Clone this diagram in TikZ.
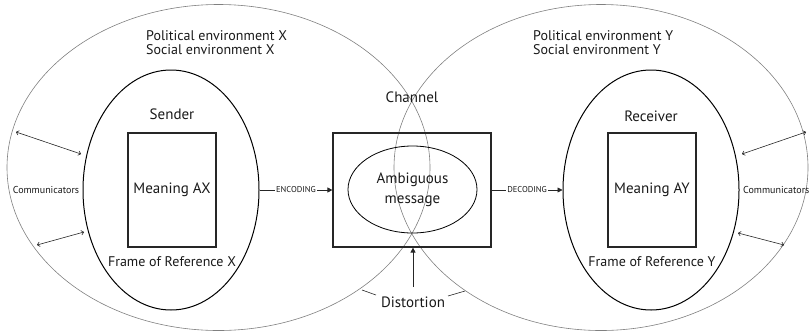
\documentclass[tikz,border=0pt]{standalone}
\usepackage{fontspec}
\setmainfont{PT Sans}
\usetikzlibrary{shapes.geometric,arrows.meta}
\tikzset{
  bigell/.style={ellipse, draw=black!50, line width=0.6pt, inner sep=0pt},
  midell/.style={ellipse, draw=black, line width=1pt, inner sep=0pt},
  meanbox/.style={rectangle, draw=black!85, line width=1.2pt, inner sep=0pt},
  envlbl/.style={font=\fontsize{14}{14}\selectfont, text=black!90, inner sep=0pt},
  lbl/.style={font=\fontsize{15}{17}\selectfont, text=black!90, inner sep=0pt},
  framelbl/.style={font=\fontsize{14}{17}\selectfont, text=black!90, inner sep=0pt},
  biglbl/.style={font=\fontsize{15}{20}\selectfont, text=black!90, inner sep=0pt},
  small/.style={font=\fontsize{10}{12}\selectfont, text=black!90, inner sep=0pt},
  coder/.style={font=\fontsize{8.5}{9}\selectfont, text=black!90, fill=white, inner sep=1.2pt},
  flow/.style={draw=black!85, line width=0.8pt, -{Triangle[length=5pt,width=5pt]}},
  comm/.style={draw=black!85, line width=0.6pt, {To[length=3pt,width=5pt]}-{To[length=3pt,width=5pt]}},
  leader/.style={draw=black!85, line width=0.6pt}
}
\begin{document}
\begin{tikzpicture}[x=1pt,y=-1pt]
\useasboundingbox (0,0) rectangle (811,333);
% environments
\node[bigell, minimum width=423pt, minimum height=326pt] (envX) at (218.5,167.5) {};
\node[bigell, minimum width=414pt, minimum height=326pt] (envY) at (601,167.5) {};
% sender / receiver
\node[midell, minimum width=176pt, minimum height=240pt] (sender) at (171,190) {};
\node[midell, minimum width=176pt, minimum height=240pt] (receiver) at (651,190) {};
% meaning boxes
\node[meanbox, minimum width=88pt, minimum height=114pt, biglbl] (meanX) at (172,190) {Meaning AX};
\node[meanbox, minimum width=88pt, minimum height=114pt, biglbl] (meanY) at (652,190) {Meaning AY};
% channel
\node[meanbox, minimum width=158pt, minimum height=114pt] (chan) at (412,190) {};
\node[ellipse, draw=black, line width=0.8pt, inner sep=0pt, minimum width=129pt, minimum height=87pt, biglbl, align=center] (amb) at (412.5,189.5) {Ambiguous\\message};
% labels
\node[envlbl, align=left, anchor=north west] (polX) at (146,30) {Political environment X\\Social environment X};
\node[envlbl, align=left, anchor=north west] (polY) at (533,30) {Political environment Y\\Social environment Y};
\node[lbl] (chanlbl) at (412,97) {Channel};
\node[lbl] (sendlbl) at (172,114) {Sender};
\node[lbl] (recvlbl) at (651,116) {Receiver};
\node[framelbl] (frameX) at (172,262) {Frame of Reference X};
\node[framelbl] (frameY) at (652,262) {Frame of Reference Y};
\node[small] (commX) at (46,190) {Communicators};
\node[small, anchor=west] (commY) at (743,190) {Communicators};
\node[lbl] (dist) at (413,302) {Distortion};
% encoding / decoding
\draw[flow] (sender.east) -- node[coder] (enc) {ENCODING} (chan.west);
\draw[flow] (chan.east) -- node[coder] (dec) {DECODING} (receiver.west);
% distortion
\coordinate (dstart) at (413,287);
\draw[flow] (dstart) -- (dstart |- chan.south);
\coordinate (dl1) at (376,295);
\coordinate (dl2) at (362,290);
\coordinate (dr1) at (448,296);
\coordinate (dr2) at (465,291);
\draw[leader] (dl1) -- (dl2);
\draw[leader] (dr1) -- (dr2);
% communicators arrows
\coordinate (cx1a) at (16,132);
\coordinate (cx1b) at (81,154);
\coordinate (cx2a) at (37,245);
\coordinate (cx2b) at (84,232);
\coordinate (cy1a) at (742,154);
\coordinate (cy1b) at (806,132);
\coordinate (cy2a) at (738,233);
\coordinate (cy2b) at (784,245);
\draw[comm] (cx1a) -- (cx1b);
\draw[comm] (cx2a) -- (cx2b);
\draw[comm] (cy1a) -- (cy1b);
\draw[comm] (cy2a) -- (cy2b);
\end{tikzpicture}
\end{document}
